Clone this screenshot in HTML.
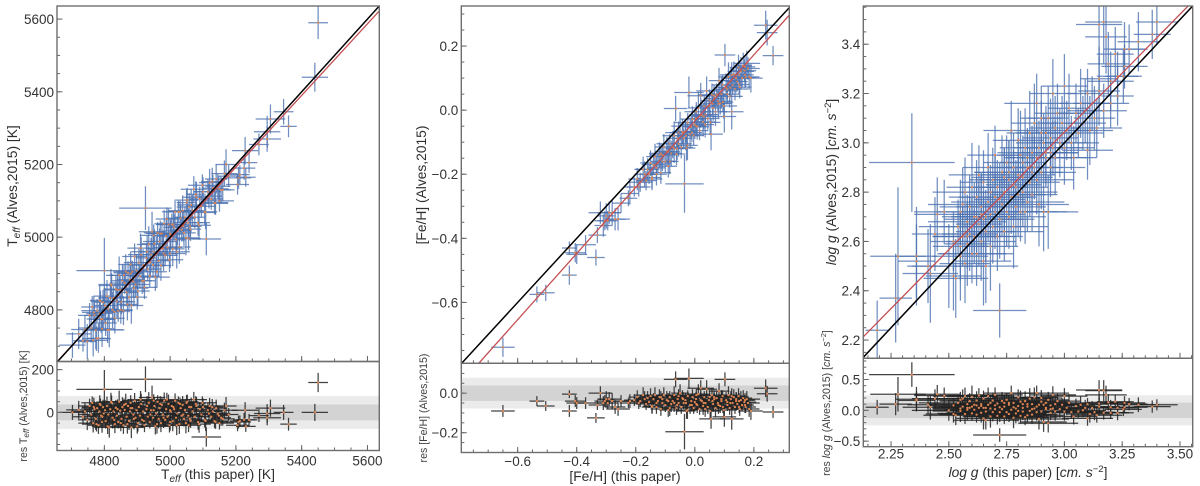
<!DOCTYPE html>
<html lang="en">
<head>
<meta charset="utf-8">
<title>Stellar parameter comparison</title>
<style>
html,body{margin:0;padding:0;background:#fff;width:1200px;height:486px;overflow:hidden}
svg{display:block;font-family:"Liberation Sans",Arial,sans-serif;filter:blur(0.35px)}
.lab{font-size:13.8px;fill:#2e2e2e}
.rlab{font-size:10.6px;fill:#3e3e3e}
</style>
</head>
<body>
<svg id="fig" xmlns="http://www.w3.org/2000/svg" width="1200" height="486" viewBox="0 0 1200 486">
  <g id="plots"></g>
  <text class="lab" transform="translate(17,186) rotate(-90)" text-anchor="middle">T<tspan font-style="italic" font-size="10" dy="3">eff</tspan><tspan dy="-3"> (Alves,2015) [K]</tspan></text>
  <text class="rlab" transform="translate(27,406) rotate(-90)" text-anchor="middle">res T<tspan font-style="italic" font-size="8" dy="2">eff</tspan><tspan dy="-2"> (Alves,2015) [K]</tspan></text>
  <text class="lab" x="218" y="479" text-anchor="middle">T<tspan font-style="italic" font-size="10" dy="3">eff</tspan><tspan dy="-3"> (this paper) [K]</tspan></text>
  <text class="lab" transform="translate(426,185) rotate(-90)" text-anchor="middle">[Fe/H] (Alves,2015)</text>
  <text class="rlab" transform="translate(427,408) rotate(-90)" text-anchor="middle">res [Fe/H] (Alves,2015)</text>
  <text class="lab" x="625" y="481" text-anchor="middle">[Fe/H] (this paper)</text>
  <text class="lab" transform="translate(836,182) rotate(-90)" text-anchor="middle"><tspan font-style="italic">log g</tspan> (Alves,2015) [<tspan font-style="italic">cm. s</tspan><tspan font-size="9.5" dy="-5">−2</tspan><tspan dy="5">]</tspan></text>
  <text class="rlab" transform="translate(830,403) rotate(-90)" text-anchor="middle">res <tspan font-style="italic">log g</tspan> (Alves,2015) [<tspan font-style="italic">cm. s</tspan><tspan font-size="7.5" dy="-4">−2</tspan><tspan dy="4">]</tspan></text>
  <text class="lab" x="1028" y="477" text-anchor="middle"><tspan font-style="italic">log g</tspan> (this paper) [<tspan font-style="italic">cm. s</tspan><tspan font-size="9.5" dy="-5">−2</tspan><tspan dy="5">]</tspan></text>
</svg>
<script>
/* ---------- Teff data (K) ---------- */
const teffThis = [
4703,4722,4735,4741,4748,4755,4760,4763,4766,4770,
4774,4778,4782,4785,4788,4790,4793,4796,4798,4800,
4804,4808,4812,4815,4818,4822,4825,4828,4832,4835,
4838,4842,4845,4848,4852,4855,4858,4862,4865,4868,
4872,4875,4878,4882,4885,4888,4892,4895,4898,4902,
4905,4908,4912,4915,4918,4922,4925,4928,4932,4935,
4938,4942,4945,4948,4952,4955,4958,4962,4965,4968,
4972,4975,4978,4982,4985,4988,4992,4995,4998,5002,
5005,5008,5012,5015,5018,5022,5025,5028,5032,5035,
5038,5042,5045,5048,5052,5055,5058,5062,5068,5072,
5075,5080,5085,5090,5095,5100,5105,5110,5115,5120,
5125,5130,5135,5140,5145,5150,5155,5160,5165,5170,
5178,5205,5208,5212,5228,5225,5230,5240,5270,5295,
5295,5305,5345,5360,5440,5450,4880,4950,5000,5060,
4768,4776,4786,4794,4802,4810,4820,4830,4840,4850,
4860,4870,4880,4890,4900,4910,4920,4930,4940,4950,
4960,4970,4980,4990,5000,5010,5020,5030,5040,5050,
5056,5064,5078,5088,5098,5108,5118,5128,5138,5148];
const teffAlves = [
4703,4734,4715,4746,4713,4785,4750,4808,4716,4785,
4744,4798,4722,4790,4823,4775,4748,4821,4793,4908,
4764,4838,4802,4745,4833,4867,4800,4833,4777,4857,
4823,4797,4895,4856,4822,4880,4798,4874,4905,4848,
4902,4835,4883,4812,4905,4878,4947,4870,4908,4852,
4930,4893,4952,4880,4923,4862,5080,4943,4912,4980,
4893,4952,5015,4923,4982,4890,4953,5012,4935,4988,
4922,5010,4968,5037,4950,5003,4972,5035,4938,5007,
5035,4968,5027,5070,4993,5017,5070,4973,5052,5020,
5073,5012,5055,4998,5102,5040,5083,5022,5073,5132,
5055,5110,5040,5105,5085,5125,5070,4995,5125,5150,
5105,5135,5095,5160,5140,5100,5130,5130,5175,5200,
5168,5145,5163,5172,5238,5190,5165,5205,5255,5290,
5270,5325,5345,5305,5440,5590,4900,4960,5010,5030,
4793,4721,4826,4774,4812,4745,4870,4795,4855,4800,
4895,4815,4925,4860,4835,4970,4880,4960,4930,5005,
4905,5010,4955,5050,4955,5035,4960,5070,5030,5095,
4996,5089,5118,5033,5143,5068,5113,5153,5093,5133];
const teffErrThis = [
40,38,30,42,28,35,40,33,45,30,
36,48,32,40,30,44,38,28,36,85,
34,42,30,46,36,40,32,44,30,38,
50,34,40,30,42,36,28,46,38,32,
44,30,40,36,48,32,38,42,30,36,
46,34,40,30,44,38,80,32,42,36,
30,48,40,34,38,44,30,42,36,50,
32,40,46,30,38,34,44,36,42,30,
48,36,32,40,30,44,38,34,46,30,
42,36,30,40,34,44,38,32,36,40,
30,42,36,34,44,30,38,45,40,32,
36,30,42,34,38,44,30,36,40,32,
30,35,38,30,40,34,30,25,30,40,
42,45,30,25,40,30,38,44,40,36,
36,44,30,40,34,48,38,32,42,36,
46,32,38,44,30,40,36,48,34,42,
30,44,38,34,46,32,40,36,44,30,
38,42,30,36,44,32,40,34,38,30];
const teffErrAlves = [
35,42,30,38,48,34,40,30,44,36,
52,32,40,46,30,38,50,34,42,90,
36,44,30,48,38,34,50,32,42,36,
44,30,52,38,34,46,40,30,48,36,
32,42,38,50,30,44,36,34,46,40,
38,30,48,36,44,32,60,40,34,50,
30,46,55,34,40,38,48,30,44,36,
42,32,50,38,30,46,36,44,34,40,
30,48,36,34,44,40,30,46,38,32,
42,36,30,48,34,40,38,32,44,36,
30,42,36,34,30,40,36,45,34,38,
30,36,32,40,34,30,38,32,36,42,
30,28,30,26,38,32,26,28,30,44,
35,40,35,30,40,45,36,50,42,38,
44,34,40,30,48,36,42,32,46,38,
30,44,36,50,34,40,32,46,38,30,
44,36,48,32,40,34,46,30,42,36,
32,44,36,40,30,46,34,38,32,36];

/* ---------- [Fe/H] data (dex) ---------- */
const fehThis = [
-0.650,-0.535,-0.505,-0.425,-0.425,-0.405,-0.400,-0.370,-0.335,-0.330,
-0.320,-0.310,-0.305,-0.300,-0.295,-0.290,-0.280,-0.270,-0.260,-0.250,
-0.225,-0.205,-0.195,-0.185,-0.175,-0.165,-0.160,-0.155,-0.150,-0.145,
-0.140,-0.135,-0.130,-0.125,-0.120,-0.115,-0.110,-0.105,-0.100,-0.095,
-0.090,-0.085,-0.080,-0.075,-0.070,-0.065,-0.062,-0.058,-0.055,-0.050,
-0.046,-0.042,-0.038,-0.035,-0.032,-0.028,-0.024,-0.020,-0.016,-0.012,
-0.008,-0.004,0.000,0.004,0.008,0.012,0.016,0.020,0.024,0.028,
0.032,0.036,0.040,0.044,0.048,0.052,0.055,0.058,0.062,0.066,
0.070,0.074,0.078,0.082,0.086,0.090,0.094,0.098,0.100,0.102,
0.106,0.110,0.114,0.118,0.122,0.125,0.128,0.132,0.136,0.140,
0.144,0.148,0.152,0.156,0.160,0.164,0.168,0.172,0.176,0.180,
0.184,0.190,0.240,0.245,0.265,-0.220,-0.190,-0.170,-0.130,-0.110,
-0.090,-0.060,-0.030,0.005,0.030,0.060,0.090,0.120,0.150,0.170,
-0.145,-0.115,-0.085,-0.055,-0.025,0.005,0.035,0.065,0.095,0.125,
-0.070,-0.040,-0.010,0.020,0.050,0.080,0.110,0.140,0.170,0.150];
const fehAlves = [
-0.740,-0.575,-0.570,-0.430,-0.515,-0.445,-0.450,-0.420,-0.460,-0.390,
-0.320,-0.360,-0.345,-0.330,-0.345,-0.320,-0.320,-0.340,-0.340,-0.290,
-0.275,-0.240,-0.215,-0.225,-0.185,-0.220,-0.185,-0.200,-0.165,-0.210,
-0.170,-0.145,-0.200,-0.165,-0.140,-0.195,-0.160,-0.115,-0.160,-0.130,
-0.175,-0.105,-0.135,-0.115,-0.080,0.005,-0.137,-0.088,-0.105,-0.050,
-0.116,-0.067,-0.088,-0.230,-0.067,-0.118,-0.039,0.055,-0.076,-0.052,
-0.028,-0.079,-0.045,-0.026,-0.052,0.007,-0.064,0.045,-0.016,-0.037,
0.012,-0.014,0.060,-0.026,0.013,-0.038,-0.075,0.048,0.007,0.036,
-0.005,0.049,0.028,0.092,0.021,0.050,0.079,0.013,-0.020,0.172,
0.071,0.050,0.104,0.043,0.092,-0.005,0.078,0.112,0.066,0.100,
0.089,0.133,0.072,0.121,0.100,0.139,0.123,0.102,0.146,0.130,
0.104,0.100,0.265,0.242,0.170,-0.260,-0.240,-0.200,-0.180,-0.140,
-0.130,-0.120,-0.080,-0.050,-0.020,0.020,0.060,0.070,0.110,0.135,
-0.215,-0.135,-0.160,-0.070,-0.110,-0.005,-0.045,0.045,0.025,0.110,
-0.120,-0.070,-0.070,-0.015,0.030,0.020,0.065,0.110,0.110,0.080];
const fehErrThis = [
0.040,0.025,0.030,0.025,0.025,0.035,0.035,0.035,0.030,0.030,
0.040,0.030,0.035,0.030,0.035,0.040,0.030,0.035,0.040,0.030,
0.030,0.035,0.030,0.040,0.030,0.035,0.040,0.030,0.035,0.030,
0.040,0.030,0.035,0.045,0.030,0.035,0.040,0.030,0.035,0.040,
0.030,0.045,0.035,0.030,0.040,0.040,0.030,0.035,0.045,0.030,
0.040,0.035,0.030,0.065,0.040,0.030,0.045,0.050,0.035,0.030,
0.040,0.035,0.045,0.030,0.040,0.035,0.030,0.045,0.035,0.040,
0.030,0.045,0.035,0.040,0.030,0.035,0.040,0.045,0.030,0.035,
0.040,0.030,0.045,0.035,0.040,0.030,0.035,0.045,0.040,0.035,
0.030,0.040,0.035,0.045,0.030,0.040,0.035,0.030,0.045,0.040,
0.035,0.030,0.040,0.045,0.035,0.030,0.040,0.035,0.045,0.040,
0.035,0.040,0.040,0.035,0.035,0.030,0.040,0.035,0.030,0.045,
0.040,0.035,0.045,0.030,0.040,0.035,0.045,0.040,0.030,0.035,
0.035,0.040,0.030,0.045,0.035,0.040,0.030,0.045,0.035,0.040,
0.030,0.045,0.035,0.040,0.030,0.035,0.045,0.040,0.030,0.035];
const fehErrAlves = [
0.030,0.025,0.025,0.020,0.030,0.030,0.030,0.030,0.025,0.025,
0.035,0.035,0.030,0.040,0.030,0.035,0.040,0.035,0.035,0.030,
0.025,0.030,0.035,0.030,0.040,0.030,0.035,0.030,0.040,0.035,
0.030,0.040,0.035,0.030,0.040,0.035,0.030,0.040,0.035,0.045,
0.035,0.030,0.040,0.035,0.045,0.040,0.035,0.030,0.040,0.045,
0.035,0.040,0.030,0.090,0.035,0.040,0.030,0.050,0.045,0.035,
0.040,0.030,0.045,0.035,0.040,0.050,0.030,0.040,0.035,0.045,
0.030,0.040,0.045,0.035,0.030,0.040,0.050,0.035,0.040,0.030,
0.045,0.035,0.030,0.040,0.035,0.045,0.030,0.040,0.050,0.035,
0.040,0.030,0.045,0.035,0.040,0.055,0.030,0.040,0.035,0.045,
0.030,0.040,0.035,0.045,0.030,0.040,0.035,0.030,0.040,0.035,
0.040,0.045,0.045,0.040,0.030,0.035,0.030,0.040,0.035,0.030,
0.040,0.035,0.045,0.030,0.040,0.035,0.045,0.030,0.040,0.035,
0.035,0.030,0.040,0.035,0.045,0.030,0.040,0.035,0.030,0.040,
0.045,0.035,0.030,0.040,0.035,0.045,0.030,0.035,0.040,0.030];

/* ---------- log g data ---------- */
const loggThis = [
2.19,2.27,2.28,2.34,2.36,2.36,2.41,2.42,2.44,2.45,
2.48,2.50,2.52,2.52,2.53,2.54,2.55,2.55,2.56,2.56,
2.57,2.57,2.58,2.58,2.59,2.59,2.60,2.60,2.61,2.61,
2.62,2.62,2.63,2.63,2.64,2.64,2.65,2.65,2.65,2.66,
2.66,2.67,2.67,2.68,2.68,2.69,2.69,2.70,2.70,2.71,
2.71,2.72,2.72,2.73,2.73,2.74,2.74,2.75,2.75,2.76,
2.76,2.77,2.77,2.78,2.78,2.79,2.79,2.80,2.80,2.81,
2.81,2.82,2.82,2.83,2.83,2.84,2.84,2.85,2.85,2.86,
2.86,2.87,2.87,2.88,2.88,2.89,2.89,2.90,2.90,2.91,
2.91,2.92,2.92,2.93,2.93,2.94,2.94,2.95,2.95,2.96,
2.96,2.97,2.98,2.99,3.00,3.00,3.01,3.02,3.03,3.04,
3.05,3.06,3.07,3.08,3.09,3.10,3.10,3.11,3.12,3.13,
3.14,3.15,3.15,3.15,3.17,3.17,3.18,3.19,3.20,3.20,
3.22,3.23,3.23,3.255,3.26,3.26,3.28,3.32,3.38,3.40,
2.55,2.60,2.64,2.68,2.72,2.76,2.80,2.84,2.88,2.92,
2.58,2.62,2.66,2.70,2.74,2.78,2.82,2.86,2.90,2.94];
const loggAlves = [
2.24,2.37,2.54,2.92,2.54,2.52,2.50,2.47,2.63,2.71,
2.72,2.50,2.46,2.60,2.45,2.66,2.54,2.72,2.75,2.62,
2.51,2.80,2.68,2.59,2.74,2.63,2.55,2.82,2.70,2.62,
2.78,2.55,2.67,2.87,2.60,2.74,2.52,2.69,2.84,2.50,
2.64,2.76,2.90,2.58,2.71,2.85,2.66,2.95,2.78,2.62,
2.82,2.32,2.69,2.75,2.88,2.64,2.80,2.72,2.92,2.85,
2.70,2.78,3.05,2.66,2.90,2.82,2.74,3.01,2.87,2.72,
2.95,2.80,2.86,2.98,2.72,2.90,2.76,3.04,2.84,2.96,
2.79,2.90,3.08,3.16,2.85,2.98,2.75,3.10,2.88,3.00,
2.72,2.96,3.04,2.72,3.10,2.90,3.02,3.20,2.98,3.06,
2.94,3.12,3.00,3.08,3.23,2.98,3.05,3.14,3.00,2.94,
3.12,3.04,3.16,3.08,3.13,2.97,3.20,3.05,3.16,3.10,
3.06,3.26,3.48,3.21,3.13,3.49,3.43,3.32,3.16,3.25,
3.36,3.27,3.19,3.27,3.31,3.38,3.38,3.41,3.44,3.49,
2.58,2.66,2.71,2.80,2.77,2.88,2.79,2.94,2.94,2.94,
2.62,2.70,2.70,2.72,2.86,2.83,2.92,2.88,3.04,2.96];
const loggErrThis = [
0.05,0.07,0.12,0.185,0.09,0.08,0.09,0.12,0.10,0.10,
0.13,0.16,0.12,0.10,0.14,0.17,0.12,0.10,0.15,0.13,
0.11,0.14,0.17,0.10,0.13,0.12,0.15,0.11,0.14,0.18,
0.12,0.16,0.10,0.13,0.15,0.11,0.12,0.17,0.10,0.14,
0.13,0.16,0.11,0.12,0.15,0.10,0.14,0.12,0.16,0.11,
0.13,0.115,0.15,0.10,0.12,0.17,0.11,0.14,0.10,0.13,
0.16,0.11,0.12,0.15,0.10,0.14,0.13,0.11,0.16,0.12,
0.10,0.15,0.13,0.11,0.14,0.12,0.16,0.10,0.13,0.15,
0.11,0.12,0.10,0.14,0.16,0.11,0.13,0.09,0.15,0.12,
0.10,0.14,0.11,0.13,0.09,0.15,0.12,0.10,0.13,0.11,
0.14,0.10,0.12,0.09,0.10,0.13,0.11,0.09,0.12,0.10,
0.08,0.11,0.09,0.10,0.08,0.11,0.09,0.10,0.08,0.09,
0.11,0.08,0.10,0.09,0.10,0.08,0.09,0.09,0.08,0.10,
0.08,0.09,0.07,0.08,0.10,0.09,0.08,0.09,0.08,0.09,
0.12,0.14,0.10,0.13,0.11,0.15,0.12,0.10,0.13,0.11,
0.15,0.11,0.13,0.10,0.14,0.12,0.10,0.13,0.11,0.12];
const loggErrAlves = [
0.12,0.18,0.28,0.20,0.20,0.15,0.15,0.20,0.15,0.15,
0.13,0.17,0.14,0.12,0.16,0.11,0.18,0.13,0.15,0.12,
0.16,0.14,0.11,0.17,0.13,0.15,0.12,0.18,0.14,0.11,
0.15,0.13,0.17,0.12,0.16,0.14,0.18,0.11,0.13,0.15,
0.12,0.16,0.14,0.18,0.11,0.13,0.15,0.12,0.17,0.14,
0.11,0.11,0.16,0.13,0.15,0.12,0.18,0.14,0.11,0.16,
0.13,0.15,0.12,0.17,0.14,0.11,0.16,0.13,0.15,0.12,
0.18,0.14,0.11,0.16,0.13,0.15,0.12,0.17,0.14,0.11,
0.15,0.13,0.16,0.12,0.14,0.11,0.17,0.13,0.15,0.12,
0.16,0.14,0.11,0.15,0.13,0.12,0.16,0.14,0.11,0.13,
0.15,0.12,0.14,0.11,0.13,0.15,0.12,0.14,0.11,0.13,
0.12,0.10,0.14,0.11,0.13,0.12,0.10,0.14,0.11,0.13,
0.12,0.13,0.16,0.14,0.11,0.17,0.15,0.13,0.10,0.12,
0.11,0.10,0.12,0.11,0.09,0.11,0.10,0.12,0.10,0.09,
0.14,0.12,0.16,0.11,0.15,0.13,0.17,0.12,0.14,0.11,
0.13,0.16,0.11,0.15,0.12,0.14,0.11,0.16,0.13,0.12];

/* ---------- fits, bands, ticks ---------- */
const teffFit = [0.985, 71];
const fehFit = [1.033, -0.034];
const loggFit = [0.955, 0.179];
const teffBands = [77, 37];
const fehBands = [0.078, 0.039];
const loggBands = [0.245, 0.125];
const teffXTicks = [4800, 5000, 5200, 5400, 5600];
const teffYTicks = [4800, 5000, 5200, 5400, 5600];
const teffResTicks = [0, 200];
const fehXTicks = [-0.6, -0.4, -0.2, 0, 0.2];
const fehYTicks = [-0.6, -0.4, -0.2, 0, 0.2];
const fehResTicks = [-0.2, 0];
const loggXTicks = [2.25, 2.5, 2.75, 3, 3.25, 3.5];
const loggYTicks = [2.2, 2.4, 2.6, 2.8, 3, 3.2, 3.4];
const loggResTicks = [-0.5, 0, 0.5];

const NS = 'http://www.w3.org/2000/svg';
const root = document.getElementById('plots');

function mk(tag, attrs, parent) {
  const e = document.createElementNS(NS, tag);
  for (const k in attrs) e.setAttribute(k, attrs[k]);
  parent.appendChild(e);
  return e;
}
function scale(d0, d1, p0, p1) {
  return v => p0 + (v - d0) / (d1 - d0) * (p1 - p0);
}
function fmt(v, dec) {
  return v.toFixed(dec).replace('-', '\u2212');
}
function segment(x1, y1, x2, y2, attrs, parent) {
  return mk('line', Object.assign({x1: x1, y1: y1, x2: x2, y2: y2}, attrs), parent);
}

function drawPanel(p) {
  const group = mk('g', {}, root);
  
  

  const X = scale(p.xlim[0], p.xlim[1], p.l, p.r);
  const Y = scale(p.ylim[0], p.ylim[1], p.mid, p.top);
  const R = scale(p.rlim[0], p.rlim[1], p.bot, p.mid);

  const clipMain = mk('clipPath', {id: p.id + '-clip-main'}, group);
  mk('rect', {x: p.l, y: p.top, width: p.r - p.l, height: p.mid - p.top}, clipMain);
  const clipRes = mk('clipPath', {id: p.id + '-clip-res'}, group);
  mk('rect', {x: p.l, y: p.mid, width: p.r - p.l, height: p.bot - p.mid}, clipRes);

  /* residual bands */
  const resG = mk('g', {'clip-path': 'url(#' + p.id + '-clip-res)'}, group);
  
  
  const outer = mk('rect', {x: p.l, y: R(p.bands[0]), width: p.r - p.l, height: R(-p.bands[0]) - R(p.bands[0]), fill: '#ebebeb'}, resG);
  
  
  const inner = mk('rect', {x: p.l, y: R(p.bands[1]), width: p.r - p.l, height: R(-p.bands[1]) - R(p.bands[1]), fill: '#d3d3d3'}, resG);
  
  

  const mainG = mk('g', {'clip-path': 'url(#' + p.id + '-clip-main)'}, group);
  
  

  const barMain = {stroke: '#4c72b0', 'stroke-width': 1.25, 'stroke-opacity': 0.8};
  const barRes = {stroke: '#222', 'stroke-width': 1.25, 'stroke-opacity': 0.85};

  /* error bars */
  p.x.forEach((xv, i) => {
    const yv = p.y[i], ex = p.ex[i], ey = p.ey[i], res = yv - xv;
    const h = segment(X(xv - ex), Y(yv), X(xv + ex), Y(yv), barMain, mainG);
    
    
    const v = segment(X(xv), Y(yv - ey), X(xv), Y(yv + ey), barMain, mainG);
    
    
    const rh = segment(X(xv - ex), R(res), X(xv + ex), R(res), barRes, resG);
    
    
    const rv = segment(X(xv), R(res - ey), X(xv), R(res + ey), barRes, resG);
    
    
  });

  /* points */
  p.x.forEach((xv, i) => {
    const yv = p.y[i];
    const pt = mk('circle', {cx: X(xv), cy: Y(yv), r: 1.05, fill: '#dd8452'}, mainG);
    
    
    const rp = mk('circle', {cx: X(xv), cy: R(yv - xv), r: 1.15, fill: '#dd8452'}, resG);
    
    
  });

  /* fit and identity lines */
  const fit = v => p.fit[0] * v + p.fit[1];
  const fitLine = segment(X(p.xlim[0]), Y(fit(p.xlim[0])), X(p.xlim[1]), Y(fit(p.xlim[1])), {stroke: '#c44e52', 'stroke-width': 1.3}, mainG);
  
  
  const idLine = segment(X(p.xlim[0]), Y(p.xlim[0]), X(p.xlim[1]), Y(p.xlim[1]), {stroke: '#000', 'stroke-width': 1.5}, mainG);
  
  

  /* ticks */
  const tickStyle = {stroke: '#666', 'stroke-width': 1};
  const axG = mk('g', {}, group);
  
  

  function xMinor(base) {
    const first = Math.ceil(p.xlim[0] / p.xMinor);
    for (let k = first; k * p.xMinor <= p.xlim[1]; k++) {
      const px = X(k * p.xMinor);
      const t = segment(px, base, px, base - 3, tickStyle, axG);
      
      
    }
  }
  function yMinor(scaleFn, lim, step) {
    const first = Math.ceil(lim[0] / step);
    for (let k = first; k * step <= lim[1]; k++) {
      const py = scaleFn(k * step);
      const t = segment(p.l, py, p.l + 3, py, tickStyle, axG);
      
      
    }
  }
  xMinor(p.mid);
  xMinor(p.bot);
  yMinor(Y, p.ylim, p.yMinor);
  yMinor(R, p.rlim, p.rMinor);

  p.xTicks.forEach(v => {
    const px = X(v);
    const t1 = segment(px, p.mid, px, p.mid - 5.5, tickStyle, axG);
    
    
    const t2 = segment(px, p.bot, px, p.bot - 5.5, tickStyle, axG);
    
    
    const lab = mk('text', {x: px, y: p.bot + p.xTickGap, 'text-anchor': 'middle', 'font-size': 13.5, fill: '#333'}, axG);
    
    
    lab.textContent = fmt(v, p.xDec);
  });
  p.yTicks.forEach(v => {
    const py = Y(v);
    const t = segment(p.l, py, p.l + 5.5, py, tickStyle, axG);
    
    
    const lab = mk('text', {x: p.l - 3, y: py + 5, 'text-anchor': 'end', 'font-size': 13.5, fill: '#333'}, axG);
    
    
    lab.textContent = fmt(v, p.yDec);
  });
  p.rTicks.forEach(v => {
    const py = R(v);
    const t = segment(p.l, py, p.l + 5.5, py, tickStyle, axG);
    
    
    const lab = mk('text', {x: p.l - 3, y: py + 5, 'text-anchor': 'end', 'font-size': 13.5, fill: '#333'}, axG);
    
    
    lab.textContent = fmt(v, p.rDec);
  });

  /* frames */
  const frameMain = mk('rect', {x: p.l, y: p.top, width: p.r - p.l, height: p.mid - p.top, fill: 'none', stroke: '#6e6e6e', 'stroke-width': 1.4}, axG);
  
  
  const frameRes = mk('rect', {x: p.l, y: p.mid, width: p.r - p.l, height: p.bot - p.mid, fill: 'none', stroke: '#6e6e6e', 'stroke-width': 1.4}, axG);
  
  
}

drawPanel({
  id: 'teff', l: 57, r: 379.3, top: 6, mid: 361.5, bot: 450.5, xTickGap: 15,
  xlim: [4656, 5636], ylim: [4658, 5636], rlim: [-178, 238],
  x: teffThis, y: teffAlves, ex: teffErrThis, ey: teffErrAlves,
  fit: teffFit, bands: teffBands,
  xTicks: teffXTicks, yTicks: teffYTicks, rTicks: teffResTicks,
  xMinor: 50, yMinor: 50, rMinor: 50, xDec: 0, yDec: 0, rDec: 0
});
drawPanel({
  id: 'feh', l: 461.3, r: 789.3, top: 6, mid: 363.3, bot: 452.5, xTickGap: 13.5,
  xlim: [-0.791, 0.32], ylim: [-0.79, 0.325], rlim: [-0.30, 0.151],
  x: fehThis, y: fehAlves, ex: fehErrThis, ey: fehErrAlves,
  fit: fehFit, bands: fehBands,
  xTicks: fehXTicks, yTicks: fehYTicks, rTicks: fehResTicks,
  xMinor: 0.05, yMinor: 0.05, rMinor: 0.05, xDec: 1, yDec: 1, rDec: 1
});
drawPanel({
  id: 'logg', l: 863.3, r: 1192.7, top: 6, mid: 358.3, bot: 446.7, xTickGap: 12,
  xlim: [2.13, 3.555], ylim: [2.126, 3.555], rlim: [-0.59, 0.844],
  x: loggThis, y: loggAlves, ex: loggErrThis, ey: loggErrAlves,
  fit: loggFit, bands: loggBands,
  xTicks: loggXTicks, yTicks: loggYTicks, rTicks: loggResTicks,
  xMinor: 0.05, yMinor: 0.05, rMinor: 0.1, xDec: 2, yDec: 1, rDec: 1
});
</script>
</body>
</html>
